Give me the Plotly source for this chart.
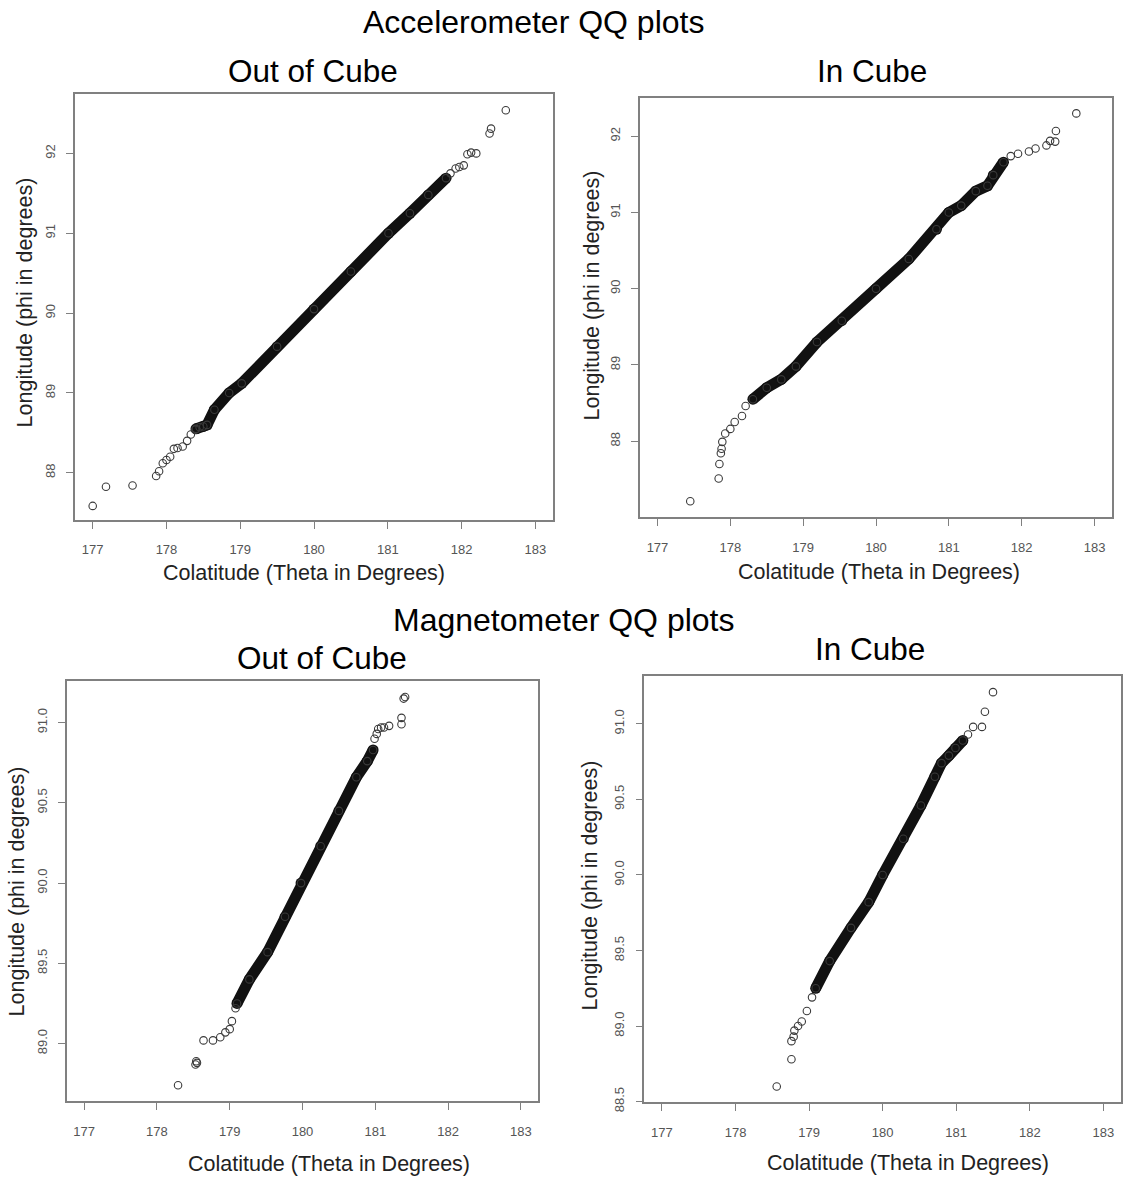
import plotly.graph_objects as go

W, H = 1123, 1190

# ---------------- data ----------------
# Accelerometer, Out of Cube
acc_out_band_theta = [178.4, 178.5, 178.55, 178.65, 178.85, 179.02, 179.5, 180.0, 180.5, 181.01, 181.3, 181.55, 181.79]
acc_out_band_phi   = [88.55, 88.58, 88.6, 88.79, 89.0, 89.12, 89.58, 90.05, 90.52, 91.0, 91.25, 91.48, 91.69]
acc_out_pts_theta = [177.0, 177.18, 177.54, 177.86, 177.9, 177.95, 178.0, 178.05, 178.1, 178.15, 178.22, 178.28,
                     178.33, 178.39, 178.45, 181.85, 181.92, 181.97, 182.03, 182.08, 182.13, 182.2, 182.38, 182.4, 182.6]
acc_out_pts_phi   = [87.585, 87.826, 87.84, 87.96, 88.02, 88.12, 88.16, 88.2, 88.3, 88.31, 88.33, 88.4,
                     88.48, 88.54, 88.57, 91.75, 91.81, 91.83, 91.85, 91.99, 92.01, 92.0, 92.25, 92.31, 92.54]

# Accelerometer, In Cube
acc_in_band_theta = [178.31, 178.5, 178.7, 178.9, 179.19, 179.53, 180.0, 180.45, 180.83, 181.0, 181.17, 181.37, 181.53, 181.61, 181.75]
acc_in_band_phi   = [88.55, 88.70, 88.81, 88.98, 89.30, 89.58, 90.0, 90.39, 90.78, 91.0, 91.09, 91.28, 91.35, 91.49, 91.66]
acc_in_pts_theta = [177.45, 177.84, 177.85, 177.87, 177.88, 177.89, 177.93, 178.0, 178.06, 178.16, 178.21,
                    181.85, 181.95, 182.1, 182.19, 182.34, 182.39, 182.46, 182.47, 182.75]
acc_in_pts_phi   = [87.21, 87.51, 87.70, 87.84, 87.90, 87.99, 88.10, 88.16, 88.25, 88.33, 88.46,
                    91.74, 91.77, 91.80, 91.84, 91.88, 91.94, 91.93, 92.07, 92.30]

# Magnetometer, Out of Cube
mag_out_band_theta = [179.1, 179.27, 179.52, 179.76, 179.98, 180.25, 180.5, 180.74, 180.89, 180.97]
mag_out_band_phi   = [89.25, 89.40, 89.57, 89.79, 90.0, 90.23, 90.45, 90.66, 90.76, 90.83]
mag_out_pts_theta = [178.29, 178.53, 178.54, 178.55, 178.64, 178.77, 178.87, 178.94, 179.0, 179.03, 179.08,
                     180.99, 181.02, 181.04, 181.08, 181.12, 181.19, 181.36, 181.36, 181.39, 181.41]
mag_out_pts_phi   = [88.74, 88.87, 88.89, 88.88, 89.02, 89.02, 89.04, 89.07, 89.09, 89.14, 89.22,
                     90.90, 90.93, 90.96, 90.97, 90.97, 90.98, 91.03, 90.99, 91.15, 91.16]

# Magnetometer, In Cube
mag_in_band_theta = [179.09, 179.28, 179.57, 179.81, 180.0, 180.28, 180.52, 180.71, 180.80, 180.90, 180.99, 181.09]
mag_in_band_phi   = [89.25, 89.43, 89.65, 89.82, 90.0, 90.24, 90.46, 90.65, 90.74, 90.79, 90.84, 90.89]
mag_in_pts_theta = [178.56, 178.76, 178.76, 178.79, 178.80, 178.85, 178.90, 178.97, 179.04,
                    181.16, 181.23, 181.35, 181.39, 181.50]
mag_in_pts_phi   = [88.60, 88.78, 88.90, 88.93, 88.97, 89.0, 89.03, 89.10, 89.19,
                    90.93, 90.98, 90.98, 91.08, 91.21]

x_ticks = [177, 178, 179, 180, 181, 182, 183]
acc_y_ticks = [88, 89, 90, 91, 92]
mag_out_y_ticks = [89.0, 89.5, 90.0, 90.5, 91.0]
mag_in_y_ticks = [88.5, 89.0, 89.5, 90.0, 90.5, 91.0]

main_titles = ["Accelerometer QQ plots", "Magnetometer QQ plots"]
panel_titles = ["Out of Cube", "In Cube", "Out of Cube", "In Cube"]
x_title = "Colatitude (Theta in Degrees)"
y_title = "Longitude (phi in degrees)"

# ---------------- layout (pixels) ----------------
panels = [
    dict(bx=acc_out_band_theta, by=acc_out_band_phi, px=acc_out_pts_theta, py=acc_out_pts_phi,
         box=(75, 553, 94.3, 524.3), yr=[87.41, 92.75], yt=acc_y_ticks, yfmt="d",
         title=(313, 72), xt=(304, 578), ytp=(25, 305)),
    dict(bx=acc_in_band_theta, by=acc_in_band_phi, px=acc_in_pts_theta, py=acc_in_pts_phi,
         box=(640, 1112, 99, 521.7), yr=[87.0, 92.5], yt=acc_y_ticks, yfmt="d",
         title=(872, 72), xt=(879, 577), ytp=(592, 298)),
    dict(bx=mag_out_band_theta, by=mag_out_band_phi, px=mag_out_pts_theta, py=mag_out_pts_phi,
         box=(66.7, 538.3, 686.7, 1110.7), yr=[88.64, 91.26], yt=mag_out_y_ticks, yfmt=".1f",
         title=(322, 664), xt=(329, 1174), ytp=(17, 899)),
    dict(bx=mag_in_band_theta, by=mag_in_band_phi, px=mag_in_pts_theta, py=mag_in_pts_phi,
         box=(644.3, 1121, 681.7, 1111.7), yr=[88.495, 91.317], yt=mag_in_y_ticks, yfmt=".1f",
         title=(870, 655), xt=(908, 1173), ytp=(590, 893)),
]

FONT = "Liberation Sans, Arial, sans-serif"
fig = go.Figure()
annotations = []

def ann(text, x, y, size, color="#000", angle=0):
    annotations.append(dict(text=text, x=x / W, y=1 - y / H, xref="paper", yref="paper",
                            xanchor="center", yanchor="middle", showarrow=False, textangle=angle,
                            font=dict(family=FONT, size=size, color=color)))

layout_axes = {}
for i, p in enumerate(panels, start=1):
    xa = "x" if i == 1 else f"x{i}"
    ya = "y" if i == 1 else f"y{i}"
    # dense overlapping band of points
    fig.add_trace(go.Scatter(x=p["bx"], y=p["by"], mode="lines+markers", xaxis=xa, yaxis=ya,
                             line=dict(color="#111", width=11),
                             marker=dict(symbol="circle", size=11, color="#111", line=dict(width=0)),
                             hoverinfo="skip", showlegend=False))
    # individual points (open circles)
    fig.add_trace(go.Scatter(x=p["px"] + p["bx"], y=p["py"] + p["by"], mode="markers", xaxis=xa, yaxis=ya,
                             marker=dict(symbol="circle-open", size=7.5, color="#3a3a3a", line=dict(width=1.1)),
                             showlegend=False))
    l, r, t, b = p["box"]
    common = dict(showline=True, linecolor="#808080", linewidth=1.5, mirror=True, showgrid=False,
                  zeroline=False, ticks="outside", ticklen=7, tickcolor="#808080", tickwidth=1.2,
                  tickfont=dict(family=FONT, size=13, color="#555"))
    layout_axes["xaxis" if i == 1 else f"xaxis{i}"] = dict(
        domain=[l / W, r / W], range=[176.76, 183.24], tickvals=x_ticks, anchor=ya,
        ticklabelstandoff=10, **common)
    layout_axes["yaxis" if i == 1 else f"yaxis{i}"] = dict(
        domain=[1 - b / H, 1 - t / H], range=p["yr"], tickvals=p["yt"], tickformat=p["yfmt"],
        anchor=xa, tickangle=-90, ticklabelstandoff=6, **common)
    ann(panel_titles[i - 1], p["title"][0], p["title"][1], 31.5)
    ann(x_title, p["xt"][0], p["xt"][1], 21.5, "#222")
    ann(y_title, p["ytp"][0], p["ytp"][1], 21.5, "#222", angle=-90)

ann(main_titles[0], 533, 22, 32)
ann(main_titles[1], 563, 625, 32)

fig.update_layout(width=W, height=H, margin=dict(l=0, r=0, t=0, b=0),
                  paper_bgcolor="white", plot_bgcolor="white", annotations=annotations,
                  showlegend=False, **layout_axes)

fig.write_html("out.html")
